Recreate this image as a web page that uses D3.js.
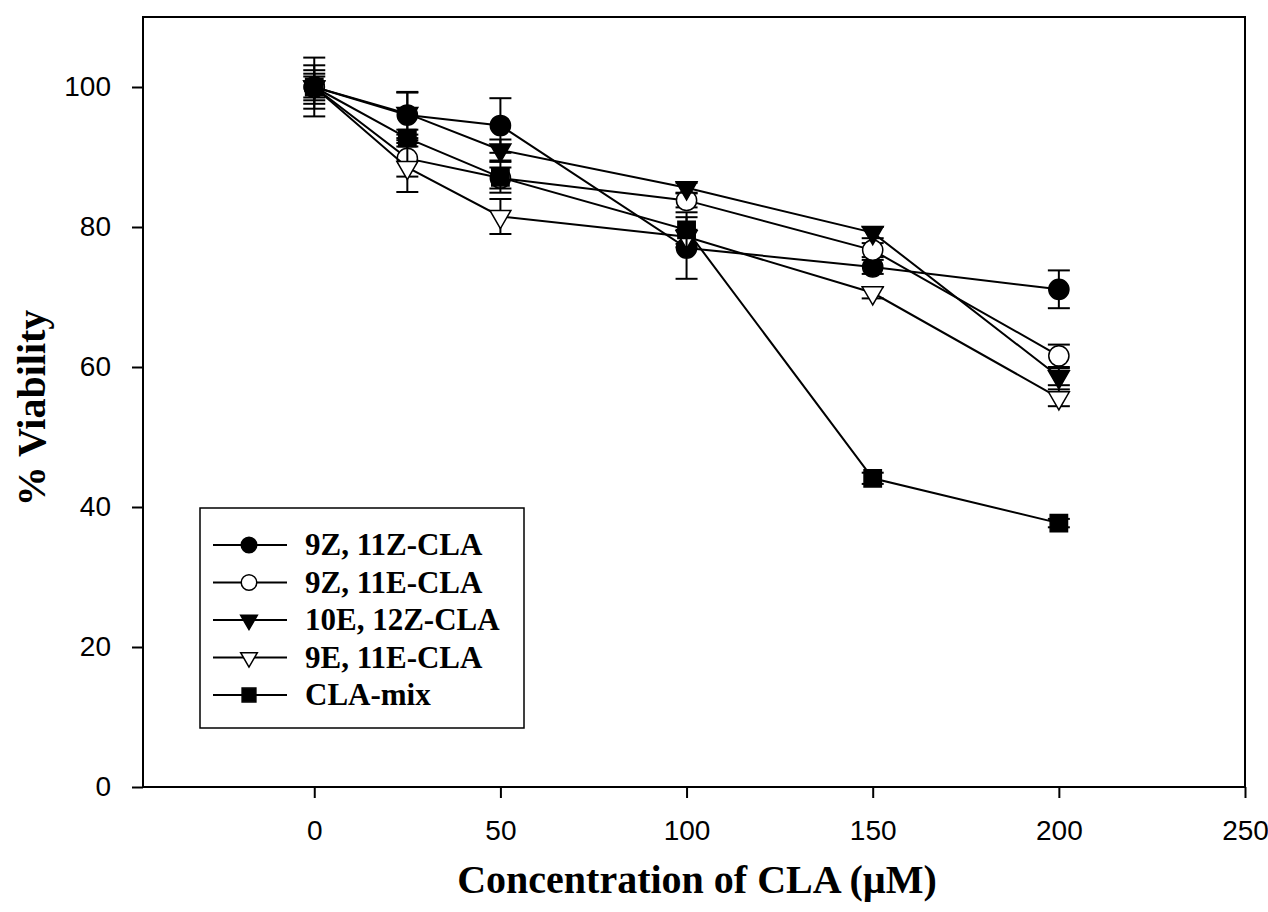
<!DOCTYPE html>
<html>
<head>
<meta charset="utf-8">
<script src="https://cdn.jsdelivr.net/npm/d3@7"></script>
<style>
body { margin: 0; background: #fff; }
</style>
</head>
<body>
<div id="chart"></div>
<script>
// data
var conc = [0, 25, 50, 100, 150, 200];
var names = ["9Z, 11Z-CLA", "9Z, 11E-CLA", "10E, 12Z-CLA", "9E, 11E-CLA", "CLA-mix"];
var v9z11z = [100, 96.0, 94.5, 77.0, 74.3, 71.1];
var v9z11e = [100, 89.8, 87.0, 83.8, 76.7, 61.6];
var v10e12z = [100, 96.2, 91.0, 85.6, 79.2, 58.6];
var v9e11e = [100, 88.5, 81.5, 78.6, 70.6, 55.6];
var vmix = [100, 92.7, 87.1, 79.6, 44.1, 37.7];
var e9z11z = [4.2, 3.3, 3.9, 4.4, 1.0, 2.7];
var e9z11e = [3.1, 2.6, 1.5, 1.0, 1.0, 1.6];
var e10e12z = [2.4, 3.0, 1.5, 0.7, 0.8, 1.2];
var e9e11e = [1.9, 3.5, 2.5, 1.0, 0.8, 1.2];
var emix = [1.5, 1.2, 2.2, 2.5, 0.8, 0.6];
var xTicks = [0, 50, 100, 150, 200, 250];
var yTicks = [0, 20, 40, 60, 80, 100];

var series = [
    {name: names[0], vals: v9z11z, errs: e9z11z, shape: "circle", fill: "#000"},
    {name: names[1], vals: v9z11e, errs: e9z11e, shape: "circle", fill: "#fff"},
    {name: names[2], vals: v10e12z, errs: e10e12z, shape: "tri", fill: "#000"},
    {name: names[3], vals: v9e11e, errs: e9e11e, shape: "tri", fill: "#fff"},
    {name: names[4], vals: vmix, errs: emix, shape: "square", fill: "#000"}
];

var plot = {left: 143, right: 1245, top: 17, bottom: 787};

var svg = d3.select("#chart")
    .append("svg")
    .attr("width", 1268)
    .attr("height", 912);

var x = d3.scaleLinear().domain([-46, 250]).range([plot.left, plot.right]);
var y = d3.scaleLinear().domain([0, 110]).range([plot.bottom, plot.top]);

function symPath(shape, big) {
    if (shape == "circle") return d3.symbol(d3.symbolCircle, big ? 320 : 190)();
    if (shape == "square") return d3.symbol(d3.symbolSquare, big ? 300 : 190)();
    return d3.symbol(d3.symbolTriangle, big ? 190 : 120)();
}
function symTransform(shape, px, py) {
    var t = "translate(" + px + "," + py + ")";
    if (shape == "tri") t += " rotate(180)";
    return t;
}

// frame
svg.append("rect")
    .attr("x", plot.left).attr("y", plot.top)
    .attr("width", plot.right - plot.left).attr("height", plot.bottom - plot.top)
    .attr("fill", "none").attr("stroke", "#000").attr("stroke-width", 2);

var yAxis = svg.append("g")
    .attr("transform", `translate(${plot.left},0)`)
    .call(d3.axisLeft(y).tickValues(yTicks).tickSize(11).tickPadding(21));
yAxis.select(".domain").remove();
yAxis.selectAll("line").attr("stroke-width", 2);
yAxis.selectAll("text").attr("font-family", "Liberation Sans, Arial").attr("font-size", 28).attr("fill", "#000");

var xAxis = svg.append("g")
    .attr("transform", `translate(0,${plot.bottom})`)
    .call(d3.axisBottom(x).tickValues(xTicks).tickSize(11).tickPadding(22));
xAxis.select(".domain").remove();
xAxis.selectAll("line").attr("stroke-width", 2);
xAxis.selectAll("text").attr("font-family", "Liberation Sans, Arial").attr("font-size", 28).attr("fill", "#000");

svg.append("text")
    .attr("x", 697).attr("y", 893)
    .attr("text-anchor", "middle")
    .attr("font-family", "Liberation Serif, Times New Roman")
    .attr("font-weight", "bold")
    .attr("font-size", 40)
    .text("Concentration of CLA (\u00b5M)");

svg.append("text")
    .attr("transform", "translate(45,408) rotate(-90)")
    .attr("text-anchor", "middle")
    .attr("font-family", "Liberation Serif, Times New Roman")
    .attr("font-weight", "bold")
    .attr("font-size", 40)
    .text("% Viability");

var line = d3.line().x(d => x(d[0])).y(d => y(d[1]));

series.forEach(function(s) {
    var pts = conc.map((c, i) => [c, s.vals[i], s.errs[i]]);
    var g = svg.append("g");
    g.append("path")
        .attr("d", line(pts))
        .attr("fill", "none").attr("stroke", "#000").attr("stroke-width", 2);
    pts.forEach(function(p) {
        var px = x(p[0]);
        g.append("line")
            .attr("x1", px).attr("x2", px)
            .attr("y1", y(p[1] - p[2])).attr("y2", y(p[1] + p[2]))
            .attr("stroke", "#000").attr("stroke-width", 2);
        [p[1] - p[2], p[1] + p[2]].forEach(function(v) {
            g.append("line")
                .attr("x1", px - 11).attr("x2", px + 11)
                .attr("y1", y(v)).attr("y2", y(v))
                .attr("stroke", "#000").attr("stroke-width", 2);
        });
    });
    g.selectAll("path.pt").data(pts).enter()
        .append("path")
        .attr("class", "pt")
        .attr("d", symPath(s.shape, true))
        .attr("transform", d => symTransform(s.shape, x(d[0]), y(d[1])))
        .attr("fill", s.fill).attr("stroke", "#000").attr("stroke-width", 1.5);
});

// legend
var legend = svg.append("g");
legend.append("rect")
    .attr("x", 200).attr("y", 508)
    .attr("width", 324).attr("height", 220)
    .attr("fill", "#fff").attr("stroke", "#000").attr("stroke-width", 1.5);
series.forEach(function(s, i) {
    var ly = 545 + i * 37.5;
    legend.append("line")
        .attr("x1", 213).attr("x2", 287).attr("y1", ly).attr("y2", ly)
        .attr("stroke", "#000").attr("stroke-width", 2);
    legend.append("path")
        .attr("d", symPath(s.shape, false))
        .attr("transform", symTransform(s.shape, 249, ly))
        .attr("fill", s.fill).attr("stroke", "#000").attr("stroke-width", 1.5);
    legend.append("text")
        .attr("x", 305).attr("y", ly + 10)
        .attr("font-family", "Liberation Serif, Times New Roman")
        .attr("font-weight", "bold")
        .attr("font-size", 31)
        .text(s.name);
});
</script>
</body>
</html>
